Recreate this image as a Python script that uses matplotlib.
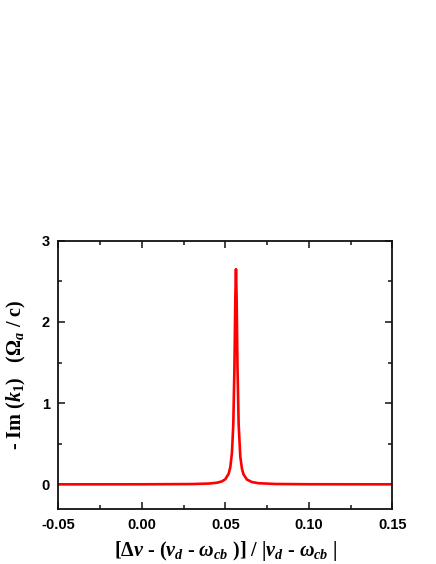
import matplotlib
matplotlib.use("Agg")
import matplotlib.pyplot as plt
from matplotlib.ticker import MultipleLocator, FixedLocator

# curve (sharp resonance near 0.0564)
detuning = [-0.05, 0.0, 0.03, 0.04, 0.045, 0.048, 0.050, 0.052, 0.053, 0.054,
            0.0548, 0.0555, 0.056, 0.0564, 0.0568, 0.0573, 0.058, 0.059, 0.060,
            0.061, 0.063, 0.066, 0.07, 0.08, 0.10, 0.15]
im_k1 = [0.0002, 0.0008, 0.0038, 0.0098, 0.020, 0.037, 0.063, 0.13, 0.21, 0.39,
         0.74, 1.46, 2.28, 2.65, 2.28, 1.46, 0.74, 0.34, 0.19,
         0.12, 0.059, 0.028, 0.014, 0.0047, 0.0014, 0.0003]

x_ticks = [-0.05, 0.0, 0.05, 0.10, 0.15]
x_labels = ["-0.05", "0.00", "0.05", "0.10", "0.15"]
y_ticks = [0, 1, 2, 3]

plt.rcParams["mathtext.fontset"] = "custom"
plt.rcParams["mathtext.rm"] = "Liberation Serif:bold"
plt.rcParams["mathtext.it"] = "Liberation Serif:italic:bold"
plt.rcParams["mathtext.bf"] = "Liberation Serif:bold"

fig = plt.figure(figsize=(4.36, 5.64), dpi=100)
ax = fig.add_axes([0.1337, 0.098, 0.766, 0.4752])

ax.plot(detuning, im_k1, color="#ff0000", lw=1.9)

ax.set_xlim(-0.05, 0.15)
ax.set_ylim(-0.3, 3)
ax.xaxis.set_major_locator(FixedLocator(x_ticks))
ax.set_xticklabels(x_labels)
ax.xaxis.set_minor_locator(MultipleLocator(0.025))
ax.set_yticks(y_ticks)
ax.yaxis.set_minor_locator(MultipleLocator(0.5))

ax.tick_params(which="both", direction="in", top=True, right=True, width=1.1, color="#111111")
ax.tick_params(which="major", length=5)
ax.tick_params(which="minor", length=3)
for lbl in ax.get_xticklabels() + ax.get_yticklabels():
    lbl.set_fontfamily("Liberation Sans")
    lbl.set_fontweight("bold")
    lbl.set_fontsize(10.5)
ax.tick_params(axis="x", pad=7)
ax.tick_params(axis="y", pad=6)
for sp in ax.spines.values():
    sp.set_linewidth(1.3)
    sp.set_color("#111111")

ax.set_xlabel(r"[$\Delta\nu$ - ($\nu_d$ - $\omega_{cb}$ )] / |$\nu_d$ - $\omega_{cb}$ |",
              fontfamily="Liberation Serif", fontweight="bold", fontsize=14.5, labelpad=5)
ax.set_ylabel(r"- Im ($k_1$)   ($\Omega_a$ / c)",
              fontfamily="Liberation Serif", fontweight="bold", fontsize=14.5, labelpad=10)

fig.savefig("out.png", dpi=100)
